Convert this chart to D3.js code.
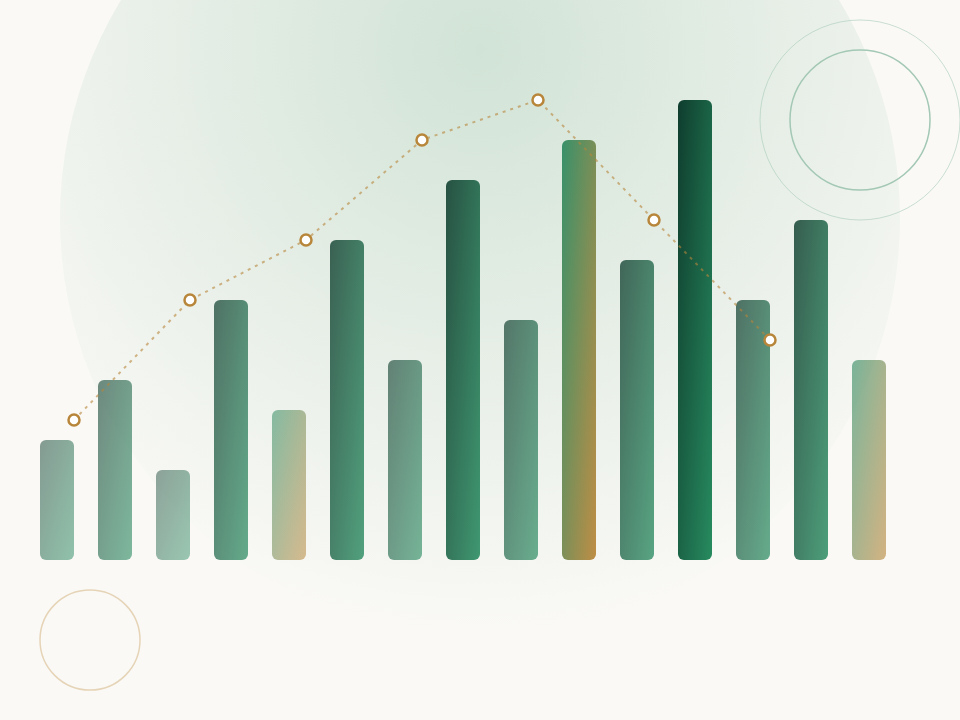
<!DOCTYPE html>
<html>
<head>
<meta charset="utf-8">
<script src="https://cdn.jsdelivr.net/npm/d3@7"></script>
<style>
  html, body { margin: 0; padding: 0; background: #faf9f6; }
  svg { display: block; }
</style>
</head>
<body>
<div id="chart"></div>
<script>
// bar data
const categories = ['A', 'B', 'C', 'D', 'E', 'F', 'G', 'H', 'I', 'J', 'K', 'L', 'M', 'N', 'O'];
const barValues = [12, 18, 9, 26, 15, 32, 20, 38, 24, 42, 30, 46, 26, 34, 20];
// every 5th bar gets the gold accent
const accentBars = ['E', 'J', 'O'];

// dotted trend line, sits on the right edge of every other bar
const lineCategories = ['A', 'C', 'E', 'G', 'I', 'K', 'M'];
const lineValues = [14, 26, 32, 42, 46, 34, 22];

const width = 960;
const height = 720;

const svg = d3.select('#chart')
              .append('svg')
              .attr('width', width)
              .attr('height', height)
              .attr('viewBox', `0 0 ${width} ${height}`);

const defs = svg.append('defs');

// soft green glow behind everything, brightest near the top
const glow = defs.append('radialGradient')
                 .attr('id', 'glow')
                 .attr('gradientUnits', 'userSpaceOnUse')
                 .attr('cx', 480).attr('cy', 50).attr('r', 585);
glow.append('stop').attr('offset', '0%').attr('stop-color', '#2e8b57').attr('stop-opacity', 0.2);
glow.append('stop').attr('offset', '60%').attr('stop-color', '#2e8b57').attr('stop-opacity', 0.08);
glow.append('stop').attr('offset', '100%').attr('stop-color', '#2e8b57').attr('stop-opacity', 0);

const greenGrad = defs.append('linearGradient')
                      .attr('id', 'barGreen')
                      .attr('x1', 0).attr('y1', 0).attr('x2', 1).attr('y2', 1);
greenGrad.append('stop').attr('offset', '0%').attr('stop-color', '#0f3d2e');
greenGrad.append('stop').attr('offset', '100%').attr('stop-color', '#278b5f');

const goldGrad = defs.append('linearGradient')
                     .attr('id', 'barGold')
                     .attr('x1', 0).attr('y1', 0).attr('x2', 1).attr('y2', 1);
goldGrad.append('stop').attr('offset', '0%').attr('stop-color', '#2e8b63');
goldGrad.append('stop').attr('offset', '100%').attr('stop-color', '#bb873a');

svg.append('rect')
   .attr('width', width).attr('height', height)
   .attr('fill', '#faf9f6');

svg.append('circle')
   .attr('cx', 480).attr('cy', 218).attr('r', 420)
   .attr('fill', 'url(#glow)');

// decorative rings
svg.append('circle')
   .attr('cx', 860).attr('cy', 120).attr('r', 100)
   .attr('fill', 'none').attr('stroke', '#a9ccb9').attr('stroke-opacity', 0.6).attr('stroke-width', 1);
svg.append('circle')
   .attr('cx', 860).attr('cy', 120).attr('r', 70)
   .attr('fill', 'none').attr('stroke', '#a3c8b4').attr('stroke-width', 1.5);
svg.append('circle')
   .attr('cx', 90).attr('cy', 640).attr('r', 50)
   .attr('fill', 'none').attr('stroke', '#e6d4b7').attr('stroke-width', 1.5);

// scales
const x = d3.scaleBand()
            .domain(categories)
            .range([40, 886])
            .paddingInner(24 / 58)
            .paddingOuter(0);

const y = d3.scaleLinear()
            .domain([0, d3.max(barValues)])
            .range([560, 100]);

// stronger bars look more opaque
const opacity = d3.scaleLinear()
                  .domain([d3.min(barValues), d3.max(barValues)])
                  .range([0.46, 1]);

const bars = categories.map((c, i) => ({ cat: c, value: barValues[i] }));

svg.selectAll('.bar')
   .data(bars)
   .enter()
   .append('rect')
   .attr('class', 'bar')
   .attr('x', d => x(d.cat))
   .attr('y', d => y(d.value))
   .attr('width', x.bandwidth())
   .attr('height', d => y(0) - y(d.value))
   .attr('rx', 6)
   .attr('fill', d => accentBars.includes(d.cat) ? 'url(#barGold)' : 'url(#barGreen)')
   .attr('fill-opacity', d => opacity(d.value));

const points = lineCategories.map((c, i) => ({ cat: c, value: lineValues[i] }));

const line = d3.line()
               .x(d => x(d.cat) + x.bandwidth())
               .y(d => y(d.value));

svg.append('path')
   .datum(points)
   .attr('d', line)
   .attr('fill', 'none')
   .attr('stroke', '#b8863a')
   .attr('stroke-opacity', 0.6)
   .attr('stroke-width', 2)
   .attr('stroke-dasharray', '3,5');

svg.selectAll('.dot')
   .data(points)
   .enter()
   .append('circle')
   .attr('class', 'dot')
   .attr('cx', d => x(d.cat) + x.bandwidth())
   .attr('cy', d => y(d.value))
   .attr('r', 5.5)
   .attr('fill', '#ffffff')
   .attr('stroke', '#b8863a')
   .attr('stroke-width', 2.5);
</script>
</body>
</html>
